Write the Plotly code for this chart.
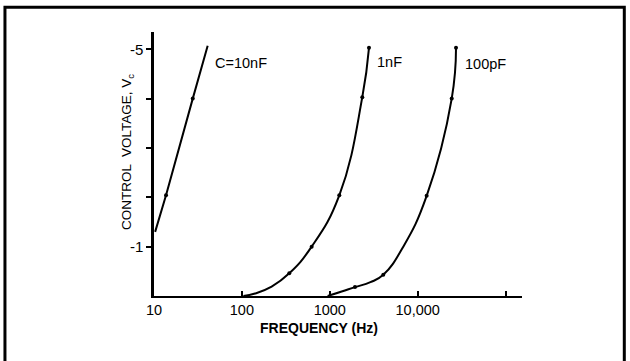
import math
import plotly.graph_objects as go

# ---- data ----
# C = 10 nF (straight segment)
curve_f_10nF = [10.3, 13.7, 27.6, 40.8]
curve_v_10nF = [-1.30, -2.04, -4.00, -5.07]
dot_f_10nF = [13.7, 27.6]
dot_v_10nF = [-2.04, -4.00]

# C = 1 nF
curve_f_1nF = [104, 141, 218, 346, 622, 1283, 2344, 2793]
curve_v_1nF = [0.0, -0.05, -0.19, -0.46, -1.00, -2.04, -4.03, -5.03]
dot_f_1nF = [346, 622, 1283, 2344, 2793]
dot_v_1nF = [-0.46, -1.00, -2.04, -4.03, -5.03]

# C = 100 pF
curve_f_100pF = [946, 1365, 1936, 2900, 4064, 6860, 12650, 24400, 27300]
curve_v_100pF = [0.0, -0.09, -0.18, -0.28, -0.43, -1.00, -2.03, -4.00, -5.03]
dot_f_100pF = [1936, 4064, 12650, 24400, 27300]
dot_v_100pF = [-0.18, -0.43, -2.03, -4.00, -5.03]

curve_labels = ["C=10nF", "1nF", "100pF"]
x_title = "<b>FREQUENCY (Hz)</b>"
y_title = "CONTROL  VOLTAGE, V<sub>c</sub>"

x_tick_vals = [10, 100, 1000, 10000, 100000]
x_tick_text = ["10", "100", "1000", "10,000", ""]
y_tick_vals = [-5, -4, -3, -2, -1]
y_tick_text = ["-5", "", "", "", "-1"]

FONT = "Liberation Sans, Arial, sans-serif"

fig = go.Figure()

series = [
    (curve_f_10nF, curve_v_10nF, dot_f_10nF, dot_v_10nF, "linear", curve_labels[0], 5, -17),
    (curve_f_1nF, curve_v_1nF, dot_f_1nF, dot_v_1nF, "spline", curve_labels[1], 6, -14),
    (curve_f_100pF, curve_v_100pF, dot_f_100pF, dot_v_100pF, "spline", curve_labels[2], 7, -16),
]

for cf, cv, df, dv, shape, name, xs, ys in series:
    fig.add_trace(go.Scatter(
        x=cf, y=cv, mode="lines", name=name,
        line=dict(color="black", width=2, shape=shape, smoothing=1.3),
        showlegend=False, hoverinfo="skip",
    ))
    fig.add_trace(go.Scatter(
        x=df, y=dv, mode="markers", name=name + " points",
        marker=dict(color="black", size=4),
        showlegend=False,
    ))
    fig.add_annotation(
        x=math.log10(cf[-1]), y=cv[-1], xref="x", yref="y", text=name,
        showarrow=False, xanchor="left", yanchor="middle",
        xshift=xs, yshift=ys,
        font=dict(family=FONT, size=14.5, color="black"),
    )

# axis titles placed as annotations (offset like the original)
fig.add_annotation(x=0.448, y=-0.121, xref="paper", yref="paper",
                   text=x_title, showarrow=False,
                   xanchor="center", yanchor="middle",
                   font=dict(family=FONT, size=14, color="black"))
fig.add_annotation(x=-0.0734, y=0.545, xref="paper", yref="paper",
                   text=y_title, showarrow=False, textangle=-90,
                   xanchor="center", yanchor="middle",
                   font=dict(family=FONT, size=13.5, color="black"))

fig.update_xaxes(
    type="log", range=[1, 5.187],
    tickvals=x_tick_vals, ticktext=x_tick_text,
    ticks="inside", ticklen=5, tickwidth=2, tickcolor="black",
    showline=True, linecolor="black", linewidth=2,
    showgrid=False, zeroline=False,
    tickfont=dict(family=FONT, size=14.5, color="black"),
)
fig.update_yaxes(
    range=[0, -5.35],
    tickvals=y_tick_vals, ticktext=y_tick_text,
    ticks="outside", ticklen=5, tickwidth=2, tickcolor="black",
    showline=True, linecolor="black", linewidth=2.5,
    showgrid=False, zeroline=False,
    tickfont=dict(family=FONT, size=15, color="black"),
)

# scanned page frame
fig.add_shape(type="rect", xref="paper", yref="paper",
              x0=-0.405, x1=1.278, y0=-0.35, y1=1.094,
              line=dict(color="black", width=3), fillcolor="rgba(0,0,0,0)")

fig.update_layout(
    width=630, height=361,
    margin=dict(l=154, r=108, t=32, b=65),
    paper_bgcolor="white", plot_bgcolor="white",
    font=dict(family=FONT, color="black"),
)

fig.write_html("out.html", config={"displayModeBar": False},
               post_script="document.body.style.margin='0';")
